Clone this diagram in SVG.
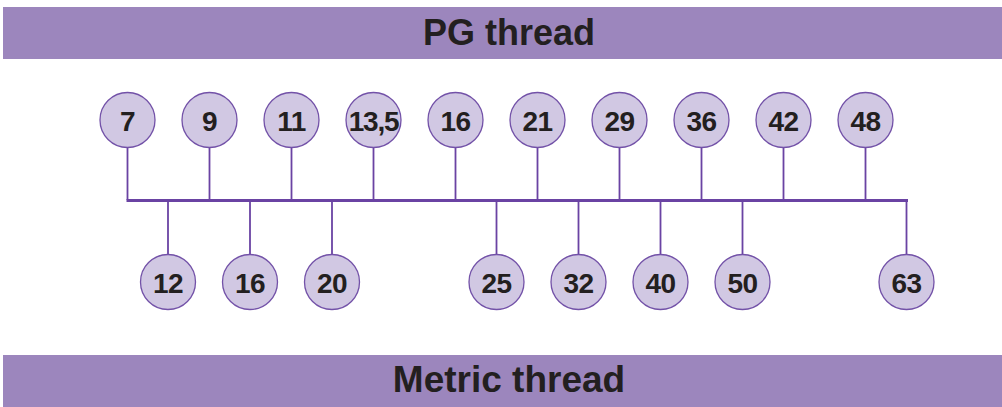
<svg xmlns="http://www.w3.org/2000/svg" width="1002" height="407" viewBox="0 0 1002 407">
<style>
.band{fill:#9c86bd}
.title{font-family:"Liberation Sans",Arial,sans-serif;font-weight:bold;font-size:36px;fill:#231f20;text-anchor:middle}
.node circle{fill:#d1c8e3;stroke:#7352a8;stroke-width:1.3}
.node text{font-family:"Liberation Sans",Arial,sans-serif;font-weight:bold;font-size:28px;fill:#231f20;text-anchor:middle;letter-spacing:-0.5px}
.conn line{stroke:#6a43a3;stroke-width:1.8}
.conn .bus{stroke-width:3}
</style>
<rect class="band" x="3" y="7" width="999" height="52"/>
<text class="title" x="509" y="45">PG thread</text>
<rect class="band" x="3" y="355" width="999" height="52"/>
<text class="title" x="509" y="392" style="font-size:37px">Metric thread</text>
<g id="connectors" class="conn">
<line class="bus" x1="126.5" y1="200.5" x2="908" y2="200.5"/>
<line x1="127.5" y1="148" x2="127.5" y2="200"/>
<line x1="209.5" y1="148" x2="209.5" y2="200"/>
<line x1="291.5" y1="148" x2="291.5" y2="200"/>
<line x1="373.5" y1="148" x2="373.5" y2="200"/>
<line x1="455.5" y1="148" x2="455.5" y2="200"/>
<line x1="537.5" y1="148" x2="537.5" y2="200"/>
<line x1="619.5" y1="148" x2="619.5" y2="200"/>
<line x1="701.5" y1="148" x2="701.5" y2="200"/>
<line x1="783.5" y1="148" x2="783.5" y2="200"/>
<line x1="865.5" y1="148" x2="865.5" y2="200"/>
<line x1="168" y1="201" x2="168" y2="254"/>
<line x1="250" y1="201" x2="250" y2="254"/>
<line x1="332" y1="201" x2="332" y2="254"/>
<line x1="496.5" y1="201" x2="496.5" y2="254"/>
<line x1="578.5" y1="201" x2="578.5" y2="254"/>
<line x1="660.5" y1="201" x2="660.5" y2="254"/>
<line x1="742.5" y1="201" x2="742.5" y2="254"/>
<line x1="906.5" y1="201" x2="906.5" y2="254"/>
</g>
<g id="pg7" class="node"><circle cx="127.5" cy="120" r="27.5"/><text x="127.5" y="130.5">7</text></g>
<g id="pg9" class="node"><circle cx="209.5" cy="120" r="27.5"/><text x="209.5" y="130.5">9</text></g>
<g id="pg11" class="node"><circle cx="291.5" cy="120" r="27.5"/><text x="291.5" y="130.5">11</text></g>
<g id="pg13-5" class="node"><circle cx="373.5" cy="120" r="27.5"/><text x="373.5" y="130.5" style="letter-spacing:-1.2px">13,5</text></g>
<g id="pg16" class="node"><circle cx="455.5" cy="120" r="27.5"/><text x="455.5" y="130.5">16</text></g>
<g id="pg21" class="node"><circle cx="537.5" cy="120" r="27.5"/><text x="537.5" y="130.5">21</text></g>
<g id="pg29" class="node"><circle cx="619.5" cy="120" r="27.5"/><text x="619.5" y="130.5">29</text></g>
<g id="pg36" class="node"><circle cx="701.5" cy="120" r="27.5"/><text x="701.5" y="130.5">36</text></g>
<g id="pg42" class="node"><circle cx="783.5" cy="120" r="27.5"/><text x="783.5" y="130.5">42</text></g>
<g id="pg48" class="node"><circle cx="865.5" cy="120" r="27.5"/><text x="865.5" y="130.5">48</text></g>
<g id="m12" class="node"><circle cx="168" cy="282" r="27.5"/><text x="168" y="292.5">12</text></g>
<g id="m16" class="node"><circle cx="250" cy="282" r="27.5"/><text x="250" y="292.5">16</text></g>
<g id="m20" class="node"><circle cx="332" cy="282" r="27.5"/><text x="332" y="292.5">20</text></g>
<g id="m25" class="node"><circle cx="496.5" cy="282" r="27.5"/><text x="496.5" y="292.5">25</text></g>
<g id="m32" class="node"><circle cx="578.5" cy="282" r="27.5"/><text x="578.5" y="292.5">32</text></g>
<g id="m40" class="node"><circle cx="660.5" cy="282" r="27.5"/><text x="660.5" y="292.5">40</text></g>
<g id="m50" class="node"><circle cx="742.5" cy="282" r="27.5"/><text x="742.5" y="292.5">50</text></g>
<g id="m63" class="node"><circle cx="906.5" cy="282" r="27.5"/><text x="906.5" y="292.5">63</text></g>
</svg>
